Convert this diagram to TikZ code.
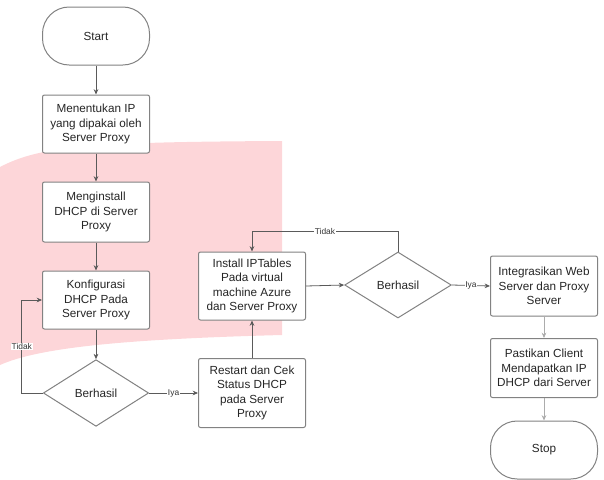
\documentclass[tikz,border=0pt]{standalone}
\usepackage{fontspec}
\setmainfont{Liberation Sans}
\usetikzlibrary{arrows.meta,shapes.geometric}

\definecolor{pinkbg}{RGB}{253,214,217}
\definecolor{linegray}{RGB}{90,90,90}
\definecolor{boxgray}{RGB}{130,130,130}

\tikzset{every picture/.style={line width=0.75pt}}
\tikzset{
  procbox/.style={draw=boxgray, fill=white, rounded corners=1.5pt, minimum width=80.25pt, align=center, inner sep=1pt, font=\fontsize{8.8pt}{10.8pt}\selectfont, text=black!85},
  termbox/.style={draw=boxgray, fill=white, rounded corners=20pt, minimum width=80.25pt, minimum height=43.5pt, font=\fontsize{8.8pt}{10.8pt}\selectfont, text=black!85},
  decision/.style={draw=boxgray, fill=white, diamond, inner sep=0pt, minimum width=79pt, minimum height=50pt, font=\fontsize{8.8pt}{10.8pt}\selectfont, text=black!85},
  flow/.style={draw=linegray, line width=0.6pt, -{Stealth[length=4pt,width=3.5pt]}},
  edgelabel/.style={fill=white, inner sep=0.5pt, font=\fontsize{6.3pt}{7pt}\selectfont, text=black!80}
}

\begin{document}
\begin{tikzpicture}[x=0.75pt,y=0.75pt,yscale=-1,xscale=1]
\useasboundingbox (0,0) rectangle (604,479);

% background band
\fill [pinkbg] (0,167) .. controls (40,146) and (90,142) .. (282,141) -- (282,335) .. controls (130,339) and (40,347) .. (0,365) -- cycle ;

% left column
\node [termbox] (start) at (96,36) {Start};
\node [procbox, minimum height=43.5pt] (ip) at (96,124) {Menentukan IP\\yang dipakai oleh\\Server Proxy};
\node [procbox, minimum height=45pt] (dhcp) at (96,212) {Menginstall\\DHCP di Server\\Proxy};
\node [procbox, minimum height=43.5pt] (conf) at (96,300) {Konfigurasi\\DHCP Pada\\Server Proxy};
\node [decision] (cek1) at (96,393) {Berhasil};

% middle column
\node [procbox, minimum height=51.75pt] (restart) at (252,393) {Restart dan Cek\\Status DHCP\\pada Server\\Proxy};
\node [procbox, minimum height=51pt] (iptab) at (252,286) {Install IPTables\\Pada virtual\\machine Azure\\dan Server Proxy};
\node [decision, minimum width=80pt, minimum height=49.5pt] (cek2) at (398,285) {Berhasil};

% right column
\node [procbox, minimum height=45pt] (integ) at (544,286) {Integrasikan Web\\Server dan Proxy\\Server};
\node [procbox, minimum height=44.25pt] (client) at (544,368) {Pastikan Client\\Mendapatkan IP\\DHCP dari Server};
\node [termbox] (stop) at (544,450) {Stop};

\draw [flow] (start) -- (ip) ;
\draw [flow] (ip) -- (dhcp) ;
\draw [flow] (dhcp) -- (conf) ;
\draw [flow] (conf) -- (cek1) ;
\draw [flow] (cek1.west) -- ++(-21,0) |- node [edgelabel, pos=0.25] {Tidak} (conf.west) ;
\draw [flow] (cek1.east) -- node [edgelabel] {Iya} (restart.west) ;
\draw [flow] (restart) -- (iptab) ;
\draw [flow] (iptab.east) -- (cek2.west) ;
\draw [flow] (cek2.north) -- ++(0,-20) -| node [edgelabel, pos=0.25] {Tidak} (iptab.north) ;
\draw [flow] (cek2.east) -- node [edgelabel] {Iya} (integ.west) ;
\draw [flow, draw=linegray!50] (integ) -- (client) ;
\draw [flow, draw=linegray!50] (client) -- (stop) ;

\end{tikzpicture}
\end{document}
